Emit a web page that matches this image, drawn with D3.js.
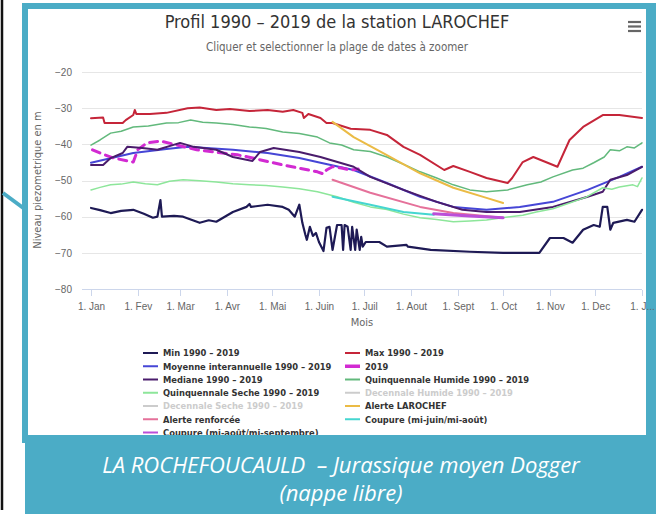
<!DOCTYPE html>
<meta charset="utf-8">
<style>
    body {
        margin: 0;
        background: white;
    }

    svg {
        display: block;
        font-family: "Liberation Sans Narrow", "DejaVu Sans Condensed", "Liberation Sans", sans-serif;
    }

    .grid line {
        stroke: #e6e6e6;
        shape-rendering: crispEdges;
    }

    .x.axis path,
    .x.axis line {
        stroke: #ccd6eb;
        shape-rendering: crispEdges;
    }

    .axis text {
        fill: #666;
        font-size: 10px;
    }

    .serie {
        fill: none;
        stroke-linejoin: round;
        stroke-linecap: round;
    }

    .legend text {
        font-size: 9.3px;
        font-weight: bold;
        fill: #333;
    }

    .caption {
        fill: white;
        font-family: "Open Sans", "Liberation Sans", sans-serif;
        font-style: italic;
        font-size: 22px;
    }
</style>
<body>
<script src="https://cdn.jsdelivr.net/npm/d3@7"></script>
<script>
    const width = 656;
    const height = 514;

    // axes
    const monthDays = [0, 31, 59, 90, 120, 151, 181, 212, 243, 273, 304, 334, 365];
    const monthLabels = ["1. Jan", "1. Fev", "1. Mar", "1. Avr", "1. Mai", "1. Juin", "1. Juil",
        "1. Aout", "1. Sept", "1. Oct", "1. Nov", "1. Dec", "1. J..."];
    const yTicks = [-20, -30, -40, -50, -60, -70, -80];

    // series, [jour de l'annee, niveau]
    const minSerie = [[0,-57.6],[6,-58.2],[13,-59.0],[20,-58.4],[28,-58.1],[35,-59.2],[41,-60.3],[44,-60.0],[46,-55.4],[47,-60.0],
        [55,-59.8],[61,-60.0],[72,-61.7],[78,-61.0],[83,-61.4],[94,-58.7],[103,-57.3],[105,-56.5],[106,-57.3],[117,-56.7],[127,-57.3],
        [131,-58.1],[135,-60.0],[138,-56.7],[140,-61.7],[142,-65.0],[143,-66.4],[145,-62.8],[147,-65.3],
        [149,-64.5],[151,-67.0],[154,-69.5],[156,-63.1],[158,-62.8],[160,-69.2],[163,-62.3],[166,-62.3],
        [167,-69.2],[168,-62.3],[170,-62.8],[172,-69.2],[173,-62.8],[175,-69.2],[176,-63.6],[178,-69.2],
        [179,-65.6],[180,-68.3],[182,-67.0],[191,-67.0],[196,-68.3],[209,-67.8],[210,-68.3],[225,-69.2],
        [251,-69.7],[273,-70.0],[297,-70.0],[304,-65.9],[313,-65.9],[319,-67.2],[326,-63.6],[333,-62.3],
        [337,-62.8],[339,-57.3],[342,-57.3],[344,-63.6],[346,-61.7],[355,-60.9],[360,-61.4],[365,-58.1]];

    const maxSerie = [[0,-32.8],[8,-32.6],[9,-34.1],[21,-34.1],[23,-33.3],[28,-31.9],[29,-30.5],[30,-31.6],
        [39,-31.6],[50,-31.3],[64,-30.0],[72,-29.8],[83,-30.5],[92,-30.2],[105,-30.8],[117,-30.5],
        [127,-31.0],[134,-30.5],[140,-31.3],[141,-32.7],[144,-31.6],[152,-32.7],[156,-34.1],[160,-34.1],
        [172,-35.7],[185,-36.0],[196,-37.4],[207,-40.7],[218,-42.9],[234,-47.1],[240,-46.0],[251,-47.6],
        [262,-49.3],[276,-50.7],[279,-49.3],[286,-44.9],[293,-43.5],[309,-46.2],[317,-38.8],[326,-35.2],
        [339,-31.9],[350,-31.9],[365,-32.7]];

    const moyenneSerie = [[0,-45.1],[28,-42.4],[50,-41.3],[64,-40.7],[94,-41.5],[117,-42.4],[138,-43.8],
        [152,-45.1],[174,-47.1],[196,-50.7],[218,-54.5],[240,-57.3],[262,-58.1],[284,-57.3],[306,-55.9],
        [329,-52.6],[350,-49.0],[365,-46.2]];

    const serie2019 = [[1,-41.5],[6,-42.4],[15,-43.8],[28,-44.9],[31,-41.5],[37,-39.6],[46,-39.1],
        [57,-40.2],[70,-41.5],[81,-42.1],[97,-42.9],[104,-43.5],[127,-45.7],[150,-47.6],[154,-48.2],
        [156,-47.1],[160,-46.2],[165,-46.5],[172,-47.1],[177,-46.8]];

    const medianeSerie = [[0,-45.7],[8,-45.7],[13,-43.8],[21,-42.4],[24,-40.7],[34,-41.0],[44,-41.5],
        [59,-39.6],[68,-40.7],[83,-41.5],[94,-43.5],[107,-44.6],[112,-42.1],[121,-41.0],[138,-42.1],
        [152,-43.5],[174,-46.2],[185,-49.0],[207,-52.6],[229,-55.9],[246,-58.1],[262,-58.7],[284,-58.7],
        [306,-57.3],[329,-54.5],[339,-53.1],[344,-49.8],[355,-48.5],[365,-46.2]];

    const quinqHumide = [[0,-40.2],[6,-38.8],[13,-36.9],[20,-36.4],[28,-35.2],[38,-34.9],[50,-34.1],[58,-34.0],[66,-33.3],
        [74,-33.9],[83,-34.1],[94,-34.5],[105,-35.2],[116,-35.6],[127,-36.6],[138,-37.0],[150,-38.0],[158,-39.6],
        [166,-40.2],[174,-41.5],[185,-42.0],[196,-43.5],[207,-45.5],[218,-47.6],[229,-49.3],[240,-51.2],[251,-52.6],
        [262,-53.1],[276,-52.6],[289,-51.2],[298,-50.4],[306,-49.0],[319,-47.1],[326,-46.6],[333,-45.1],[340,-43.5],
        [344,-41.5],[350,-41.8],[355,-40.7],[360,-41.0],[365,-39.6]];

    const quinqSeche = [[0,-52.6],[6,-51.9],[13,-51.2],[20,-51.0],[28,-50.4],[36,-50.9],[44,-51.2],[52,-50.2],[61,-49.8],
        [72,-50.1],[83,-50.4],[94,-50.9],[105,-51.2],[116,-51.4],[127,-51.8],[138,-52.3],[150,-53.1],[163,-54.5],
        [174,-56.0],[185,-57.3],[196,-58.0],[207,-59.3],[218,-60.3],[229,-60.8],[240,-61.4],[251,-61.2],[262,-60.9],
        [276,-60.1],[286,-59.6],[295,-58.7],[306,-57.8],[317,-56.2],[328,-54.6],[339,-52.0],[345,-52.4],[350,-51.8],
        [359,-51.2],[362,-51.7],[365,-49.3]];

    const alerteSerie = [[160,-33.8],[174,-38.0],[196,-43.0],[218,-48.0],[240,-52.0],[262,-54.8],[273,-56.2]];
    const alerteRenfSerie = [[160,-49.8],[185,-53.4],[218,-57.3],[240,-59.0],[273,-60.3]];
    const coupure1Serie = [[160,-54.5],[185,-56.7],[207,-58.7],[227,-59.5]];
    const coupure2Serie = [[227,-59.2],[251,-59.8],[273,-60.3]];

    const series = [
        {name: "Min 1990 - 2019", data: minSerie, color: "#1e1a55", w: 2.2},
        {name: "Max 1990 - 2019", data: maxSerie, color: "#c52539", w: 2},
        {name: "Moyenne interannuelle 1990 - 2019", data: moyenneSerie, color: "#4646d6", w: 2},
        {name: "2019", data: serie2019, color: "#d22ad2", w: 3, dash: "8,6"},
        {name: "Mediane 1990 - 2019", data: medianeSerie, color: "#4a1c6c", w: 2},
        {name: "Quinquennale Humide 1990 - 2019", data: quinqHumide, color: "#62b97c", w: 1.5},
        {name: "Quinquennale Seche 1990 - 2019", data: quinqSeche, color: "#8de69a", w: 1.5},
        {name: "Decennale Humide 1990 - 2019", data: null, color: "#cccccc", w: 1},
        {name: "Decennale Seche 1990 - 2019", data: null, color: "#cccccc", w: 1},
        {name: "Alerte LAROCHEF", data: alerteSerie, color: "#ebbb45", w: 2},
        {name: "Alerte renforcée", data: alerteRenfSerie, color: "#e5719a", w: 2},
        {name: "Coupure (mi-juin/mi-août)", data: coupure1Serie, color: "#45d6d0", w: 2},
        {name: "Coupure (mi-août/mi-septembre)", data: coupure2Serie, color: "#bb4fd8", w: 3}
    ];

    const svg = d3.select("body").append("svg")
        .attr("width", width)
        .attr("height", height);

    // cadre de la diapo
    svg.append("line")
        .attr("x1", 2).attr("y1", 0).attr("x2", 2).attr("y2", 510)
        .attr("stroke", "#111").attr("stroke-width", 2.5);
    svg.append("line")
        .attr("x1", 3).attr("y1", 193).attr("x2", 26).attr("y2", 210)
        .attr("stroke", "#4bacc6").attr("stroke-width", 4);
    svg.append("rect")
        .attr("x", 22).attr("y", 3).attr("width", 634).attr("height", 440)
        .attr("fill", "#4bacc6");
    svg.append("rect")
        .attr("x", 28).attr("y", 9).attr("width", 618).attr("height", 430)
        .attr("fill", "white");

    const x = d3.scaleLinear().domain([0, 365]).range([91, 642]);
    const y = d3.scaleLinear().domain([-80, -20]).range([289, 72]);

    // titres
    svg.append("text")
        .attr("x", 337).attr("y", 28)
        .attr("text-anchor", "middle")
        .style("font-size", "18px").style("fill", "#333")
        .text("Profil 1990 – 2019 de la station LAROCHEF");
    svg.append("text")
        .attr("x", 337).attr("y", 51)
        .attr("text-anchor", "middle")
        .style("font-size", "11.5px").style("fill", "#666")
        .text("Cliquer et selectionner la plage de dates à zoomer");

    // menu
    svg.append("g").selectAll("line")
        .data([0, 1, 2])
        .enter().append("line")
        .attr("x1", 628).attr("x2", 641)
        .attr("y1", d => 22 + d * 4.5).attr("y2", d => 22 + d * 4.5)
        .attr("stroke", "#666").attr("stroke-width", 2.2);

    // grille
    svg.append("g").attr("class", "grid")
        .selectAll("line")
        .data(yTicks.filter(d => d !== -80))
        .enter().append("line")
        .attr("x1", 82).attr("x2", 642)
        .attr("y1", d => Math.round(y(d)) + 0.5).attr("y2", d => Math.round(y(d)) + 0.5);

    const xAxis = d3.axisBottom(x)
        .tickValues(monthDays)
        .tickFormat((d, i) => monthLabels[i])
        .tickSize(6)
        .tickSizeOuter(0);

    const gX = svg.append("g")
        .attr("class", "x axis")
        .attr("transform", "translate(0," + (Math.round(y(-80)) + 0.5) + ")")
        .call(xAxis);
    gX.select(".domain").attr("d", "M82,0H642");
    gX.selectAll("text").attr("dy", "1.1em");

    const yAxis = d3.axisLeft(y).tickValues(yTicks).tickSize(0).tickPadding(0)
        .tickFormat(d => d3.format("")(d).replace("-", "−"));
    const gY = svg.append("g")
        .attr("class", "y axis")
        .attr("transform", "translate(72,0)")
        .call(yAxis);
    gY.select(".domain").remove();

    svg.append("text")
        .attr("x", 362).attr("y", 326)
        .attr("text-anchor", "middle")
        .style("font-size", "11px").style("fill", "#666")
        .text("Mois");

    svg.append("text")
        .attr("transform", "translate(41,180) rotate(-90)")
        .attr("text-anchor", "middle")
        .style("font-size", "11px").style("fill", "#666")
        .text("Niveau piezometrique en m");

    // courbes
    const line = d3.line()
        .x(d => x(d[0]))
        .y(d => y(d[1]));

    svg.append("g").attr("class", "series")
        .selectAll("path")
        .data(series.filter(s => s.data))
        .enter().append("path")
        .attr("class", "serie")
        .attr("d", d => line(d.data))
        .attr("stroke", d => d.color)
        .attr("stroke-width", d => d.w)
        .attr("stroke-dasharray", d => d.dash || null)
        .attr("stroke-linecap", d => d.dash ? "butt" : "round");

    // legende
    const legend = svg.append("g").attr("class", "legend")
        .selectAll("g")
        .data(series)
        .enter().append("g")
        .attr("transform", (d, i) => "translate(" + (i % 2 ? 345 : 143) + "," + (353 + Math.floor(i / 2) * 13.25) + ")");

    legend.append("line")
        .attr("x1", 0).attr("x2", 15)
        .attr("stroke", d => d.color)
        .attr("stroke-width", d => d.name === "2019" ? 3.5 : 2);

    legend.append("text")
        .attr("x", 20).attr("dy", "0.35em")
        .style("fill", d => d.data ? "#333" : "#cccccc")
        .text(d => d.name.replace(" - ", " – "));

    // bandeau
    svg.append("rect")
        .attr("x", 25).attr("y", 435).attr("width", 631).attr("height", 79)
        .attr("fill", "#4bacc6");
    svg.append("text")
        .attr("class", "caption")
        .attr("x", 341).attr("y", 473)
        .attr("text-anchor", "middle")
        .attr("xml:space", "preserve")
        .text("LA ROCHEFOUCAULD  – Jurassique moyen Dogger");
    svg.append("text")
        .attr("class", "caption")
        .attr("x", 341).attr("y", 501)
        .attr("text-anchor", "middle")
        .text("(nappe libre)");
</script>
</body>
</html>
